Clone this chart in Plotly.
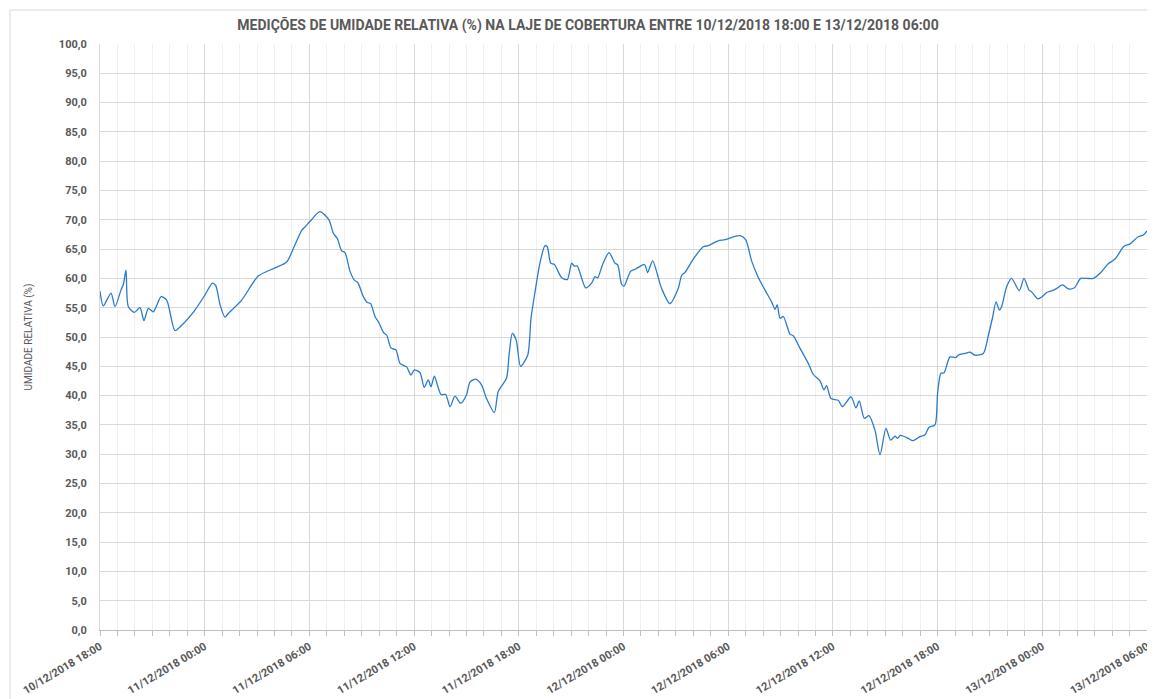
import pandas as pd
import plotly.graph_objects as go

START = "2018-12-10 18:00"
END = "2018-12-13 06:00"

# hours elapsed since 10/12/2018 18:00, relative humidity (%)
hours = [
    0.0, 0.19, 0.63, 0.86, 1.2, 1.34, 1.49, 1.62, 1.97, 2.29, 2.52, 2.77, 3.06,
    3.5, 3.82, 4.3, 4.68, 5.44, 6.02, 6.44, 6.63, 6.88, 7.16, 7.35, 8.12, 9.07,
    10.03, 10.7, 11.08, 11.56, 11.75, 12.03, 12.6, 13.12, 13.37, 13.6, 13.85,
    14.04, 14.33, 14.58, 14.77, 15.09, 15.32, 15.51, 15.76, 15.99, 16.24, 16.43,
    16.68, 16.96, 17.19, 17.57, 17.82, 18.01, 18.34, 18.58, 18.81, 18.97, 19.16,
    19.54, 19.81, 20.06, 20.34, 20.67, 21.01, 21.2, 21.53, 21.87, 22.15, 22.6,
    22.82, 23.3, 23.44, 23.63, 23.85, 24.1, 24.51, 24.7, 24.93, 25.21, 25.5,
    25.63, 25.83, 26.03, 26.46, 26.78, 27.03, 27.18, 27.35, 27.83, 28.17, 28.37,
    28.52, 28.79, 29.17, 29.51, 29.67, 29.89, 30.03, 30.41, 30.7, 31.1, 31.23,
    31.38, 31.67, 32.18, 32.66, 33.14, 33.33, 33.52, 34.0, 34.57, 34.86, 35.43,
    35.82, 36.29, 36.68, 37.0, 37.35, 37.72, 38.11, 38.49, 38.68, 38.81, 38.97,
    39.16, 39.54, 39.73, 40.11, 40.59, 40.88, 41.26, 41.49, 41.64, 41.89, 42.31,
    42.54, 43.04, 43.32, 43.51, 43.8, 44.07, 44.41, 44.7, 45.04, 45.31, 45.56,
    45.69, 45.88, 46.32, 46.57, 46.99, 47.28, 47.51, 47.85, 48.0, 48.19, 48.37,
    48.71, 49.04, 49.19, 49.57, 49.86, 50.14, 50.62, 50.91, 51.14, 51.35, 51.54,
    51.67, 51.96, 52.24, 52.68, 52.95, 53.24, 53.39, 53.74, 54.0, 54.25, 54.57,
    54.83, 55.15, 55.5, 55.84, 56.2, 56.55, 56.93, 57.35, 57.78, 58.17, 58.68,
    59.03, 59.5, 59.79, 60.0,
]
rh = [
    57.8, 55.3, 57.5, 55.2, 58.0, 59.0, 61.4, 55.2, 54.2, 55.0, 52.8, 54.9, 54.3,
    56.9, 56.3, 51.1, 52.0, 54.6, 57.2, 59.2, 58.8, 55.5, 53.4, 54.0, 56.3, 60.4,
    61.8, 62.8, 65.1, 68.2, 68.8, 69.7, 71.4, 70.0, 67.7, 66.8, 64.7,
    64.4, 61.2, 59.7, 59.3, 56.9, 55.9, 55.7, 53.5, 52.4, 50.8, 50.3,
    48.1, 47.8, 45.5, 44.9, 43.5, 44.4, 43.9, 41.4, 42.7, 41.5, 43.3,
    40.2, 40.2, 38.1, 39.9, 38.7, 40.2, 42.3, 42.8, 41.8, 39.5, 37.1,
    40.7, 43.0, 46.9, 50.6, 49.5, 45.0, 46.9, 53.2, 57.7, 62.6, 65.6,
    65.4, 62.6, 62.4, 60.1, 59.8, 62.6, 62.1, 62.1, 58.4, 59.2, 60.3,
    60.1, 62.3, 64.4, 62.6, 62.3, 59.0, 58.7, 61.2, 61.6, 62.3, 62.3,
    61.0, 63.0, 58.3, 55.7, 58.3, 60.5, 61.0, 63.3, 65.4, 65.6, 66.4,
    66.6, 67.1, 67.3, 66.6, 62.9, 60.2, 58.0, 56.0, 54.7, 55.5, 53.2,
    53.5, 50.5, 50.2, 48.1, 45.5, 43.6, 42.5, 41.0, 41.7, 39.5, 39.2,
    38.1, 39.8, 37.9, 39.1, 36.1, 36.6, 34.1, 29.9, 34.4, 32.4, 33.1,
    32.7, 33.2, 32.7, 32.3, 33.0, 33.3, 34.6, 35.0, 40.4, 43.8, 43.9,
    46.6, 46.5, 46.9, 47.2, 47.4, 46.9, 47.2, 50.3, 53.2, 56.0, 54.6,
    55.2, 58.6, 60.0, 57.9, 60.0, 58.0, 57.7, 56.5, 56.9, 57.6, 57.9,
    58.3, 58.9, 58.2, 58.4, 60.0, 60.0, 60.0, 61.0, 62.5, 63.3, 65.5,
    65.9, 67.1, 67.4, 68.1,
]

TITLE = ("MEDIÇÕES DE UMIDADE RELATIVA (%) NA LAJE DE COBERTURA ENTRE "
         "10/12/2018 18:00 E 13/12/2018 06:00")

FONT = "Roboto, Arial, sans-serif"
GREY_TEXT = "#595959"
HOUR_MS = 3600000

# the page body has an 8px margin, so the figure is sized to fill what's left
W, H = 1147, 691

times = pd.Timestamp(START) + pd.to_timedelta(hours, unit="h")

fig = go.Figure()
fig.add_trace(
    go.Scatter(
        x=times,
        y=rh,
        mode="lines",
        line={"color": "#2b7bcc", "width": 1.3, "shape": "spline", "smoothing": 0.7},
        hovertemplate="%{x|%d/%m/%Y %H:%M}, %{y:.1f}%<extra></extra>",
    )
)

fig.update_layout(
    width=W,
    height=H,
    paper_bgcolor="white",
    plot_bgcolor="white",
    separators=",.",
    showlegend=False,
    margin={"l": 92, "r": 8, "t": 36, "b": 69, "autoexpand": False},
    font={"family": FONT, "color": GREY_TEXT},
    title={
        "text": TITLE,
        "x": 580 / W,
        "xanchor": "center",
        "y": 1 - 17 / H,
        "yanchor": "middle",
        "font": {"size": 14, "weight": "bold", "color": GREY_TEXT, "family": FONT},
    },
    shapes=[
        {
            "type": "rect", "xref": "paper", "yref": "paper",
            "x0": -0.086, "x1": 1.03, "y0": -0.3, "y1": 1.058,
            "line": {"color": "#d9d9d9", "width": 1},
            "layer": "below",
        }
    ],
)

fig.update_xaxes(
    range=[START, END],
    type="date",
    automargin=False,
    tick0=START,
    dtick=6 * HOUR_MS,
    tickformat="%d/%m/%Y %H:%M",
    tickangle=-31,
    tickfont={"size": 11, "weight": "bold", "color": GREY_TEXT},
    ticks="outside",
    ticklen=5,
    tickcolor="#bfbfbf",
    showgrid=True,
    gridcolor="#d9d9d9",
    gridwidth=1,
    showline=True,
    linecolor="#bfbfbf",
    zeroline=False,
    minor={
        "dtick": HOUR_MS,
        "ticks": "outside",
        "ticklen": 5,
        "tickcolor": "#bfbfbf",
        "showgrid": True,
        "gridcolor": "#f0f0f0",
    },
)

fig.update_yaxes(
    range=[0, 100],
    automargin=False,
    dtick=5,
    tickformat=".1f",
    tickfont={"size": 11, "weight": "bold", "color": GREY_TEXT},
    ticks="",
    ticklabelstandoff=10,
    showgrid=True,
    gridcolor="#d9d9d9",
    showline=True,
    linecolor="#d9d9d9",
    zeroline=False,
    title={"text": "UMIDADE RELATIVA (%)", "font": {"size": 10, "color": GREY_TEXT}, "standoff": 24},
)

fig.write_html("out.html")
